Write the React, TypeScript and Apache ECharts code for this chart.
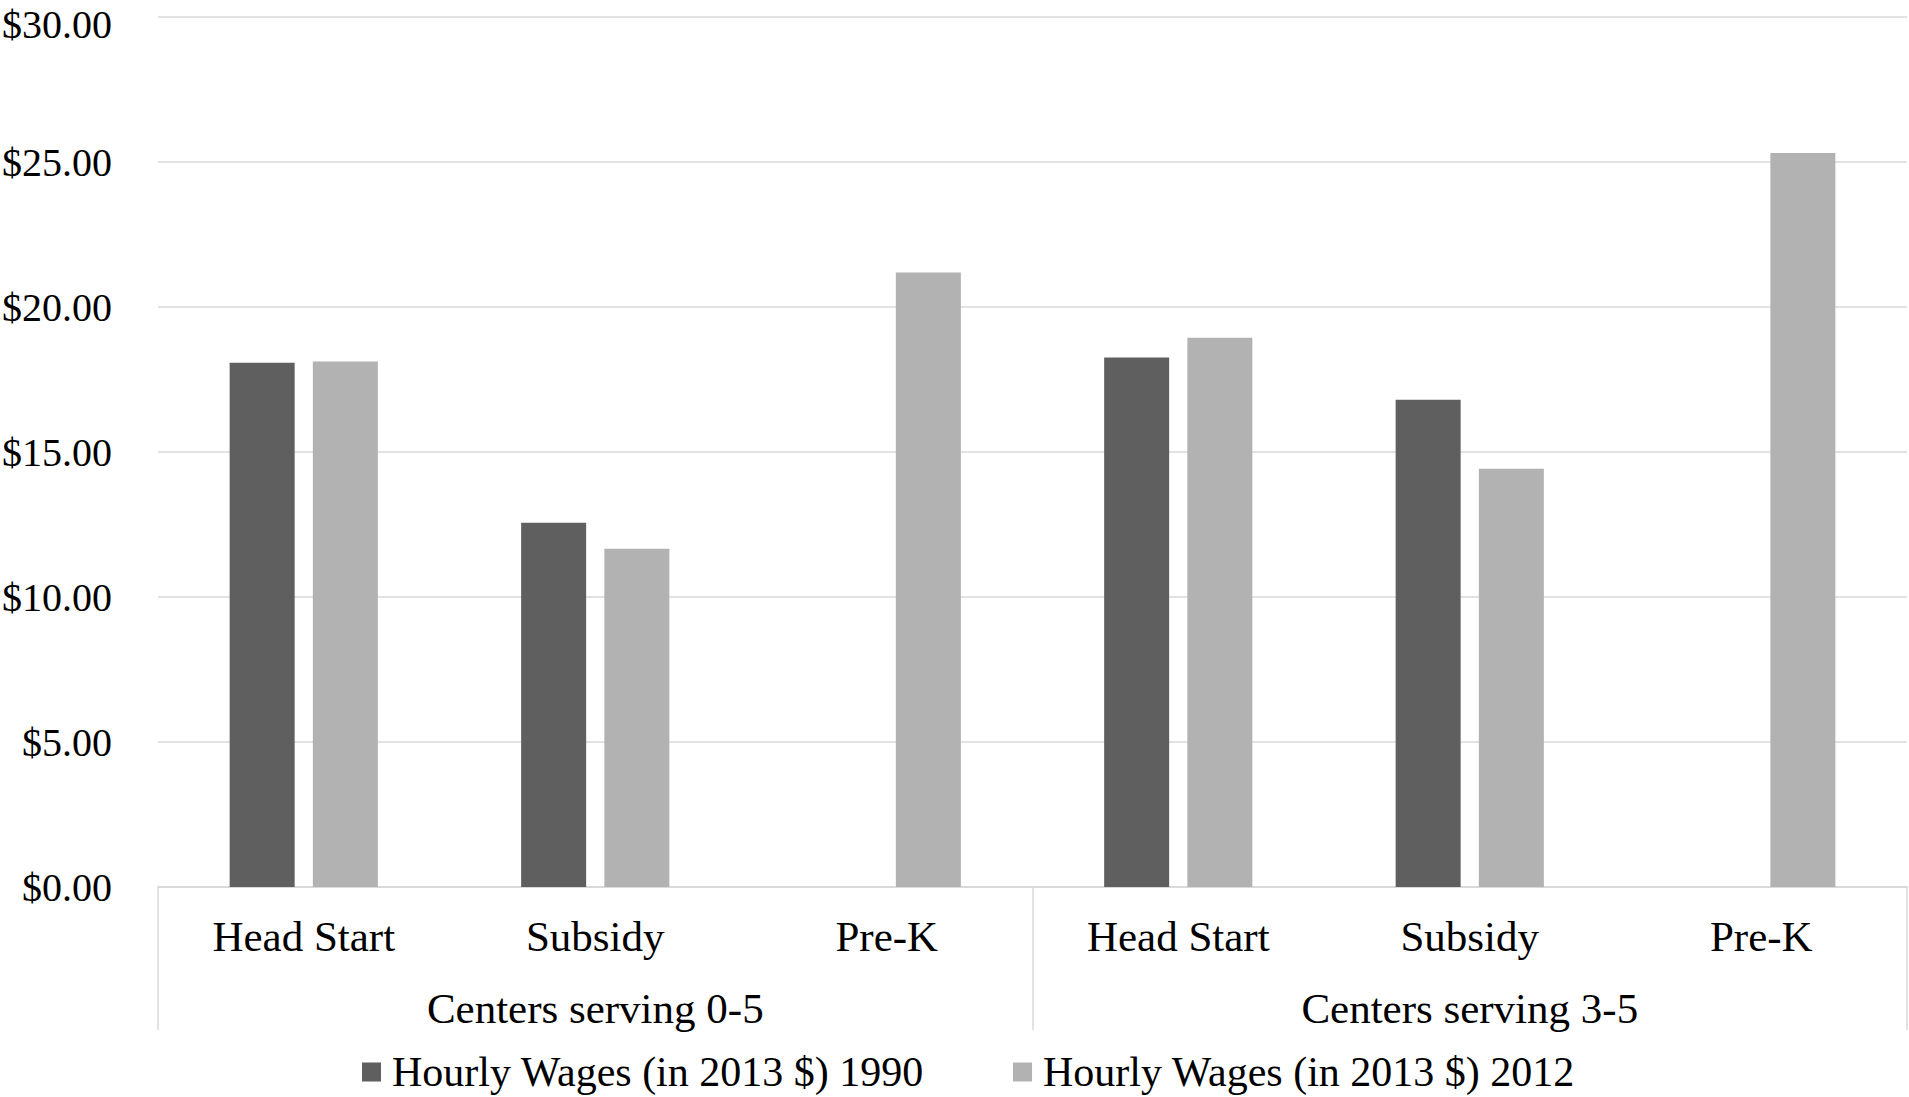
import React, { useEffect, useRef } from "react";
import * as echarts from "echarts";

// Program types, repeated for each center group
const programs = ["Head Start", "Subsidy", "Pre-K", "Head Start", "Subsidy", "Pre-K"];
const groups = ["Centers serving 0-5", "Centers serving 3-5"];

// Hourly wages in 2013 dollars
const wages1990: (number | null)[] = [18.08, 12.56, null, 18.26, 16.8, null];
const wages2012: (number | null)[] = [18.12, 11.66, 21.19, 18.94, 14.42, 25.31];

const seriesNames = ["Hourly Wages (in 2013 $) 1990", "Hourly Wages (in 2013 $) 2012"];
const yTicks = { min: 0, max: 30, interval: 5 };

const FONT = "'Liberation Serif', 'DejaVu Serif', serif";
const GRID_GRAY = "#d9d9d9";

export default function App() {
  const ref = useRef<HTMLDivElement>(null);

  useEffect(() => {
    document.body.style.margin = "0";
    if (!ref.current) return;
    const chart = echarts.init(ref.current, undefined, { renderer: "svg" });
    chart.setOption({
      animation: false,
      backgroundColor: "#ffffff",
      textStyle: { fontFamily: FONT, color: "#000" },
      grid: {
        left: 158,
        right: 2,
        top: 17,
        bottom: 210,
        containLabel: false,
        outerBoundsMode: "none",
      },
      legend: {
        left: 357,
        top: 1046,
        itemWidth: 19,
        itemHeight: 19,
        itemGap: 89,
        icon: "rect",
        textStyle: { fontFamily: FONT, fontSize: 42, color: "#000", padding: [0, 0, 0, 6] },
        data: seriesNames,
      },
      xAxis: [
        {
          type: "category",
          data: programs,
          position: "bottom",
          axisLine: { show: true, lineStyle: { color: GRID_GRAY, width: 2 } },
          axisTick: { show: false },
          axisLabel: {
            interval: 0,
            margin: 28,
            fontFamily: FONT,
            fontSize: 43,
            color: "#000",
          },
        },
        {
          type: "category",
          data: groups,
          position: "bottom",
          axisLine: { show: false },
          axisTick: {
            show: true,
            interval: 0,
            length: 143,
            lineStyle: { color: GRID_GRAY, width: 1.5 },
          },
          axisLabel: {
            interval: 0,
            margin: 100,
            fontFamily: FONT,
            fontSize: 43,
            color: "#000",
          },
        },
      ],
      yAxis: {
        type: "value",
        min: yTicks.min,
        max: yTicks.max,
        interval: yTicks.interval,
        axisLine: { show: false },
        axisTick: { show: false },
        splitLine: { lineStyle: { color: GRID_GRAY, width: 1.5 } },
        axisLabel: {
          margin: 46,
          fontFamily: FONT,
          fontSize: 40,
          lineHeight: 40,
          color: "#000",
          // the topmost label sits at the page edge, so nudge it down a little
          formatter: (v: number) =>
            v === yTicks.max ? "{top|$" + v.toFixed(2) + "}" : "$" + v.toFixed(2),
          rich: {
            top: {
              fontFamily: FONT,
              fontSize: 40,
              lineHeight: 40,
              color: "#000",
              padding: [14, 0, 0, 0],
            },
          },
        },
      },
      series: [
        {
          name: seriesNames[0],
          type: "bar",
          xAxisIndex: 0,
          data: wages1990,
          barWidth: "22.3%",
          barGap: "28%",
          itemStyle: { color: "#5f5f5f" },
        },
        {
          name: seriesNames[1],
          type: "bar",
          xAxisIndex: 0,
          data: wages2012,
          barWidth: "22.3%",
          barGap: "28%",
          itemStyle: { color: "#b2b2b2" },
        },
      ],
    });
    return () => chart.dispose();
  }, []);

  return <div ref={ref} style={{ width: 1909, height: 1097 }} />;
}
